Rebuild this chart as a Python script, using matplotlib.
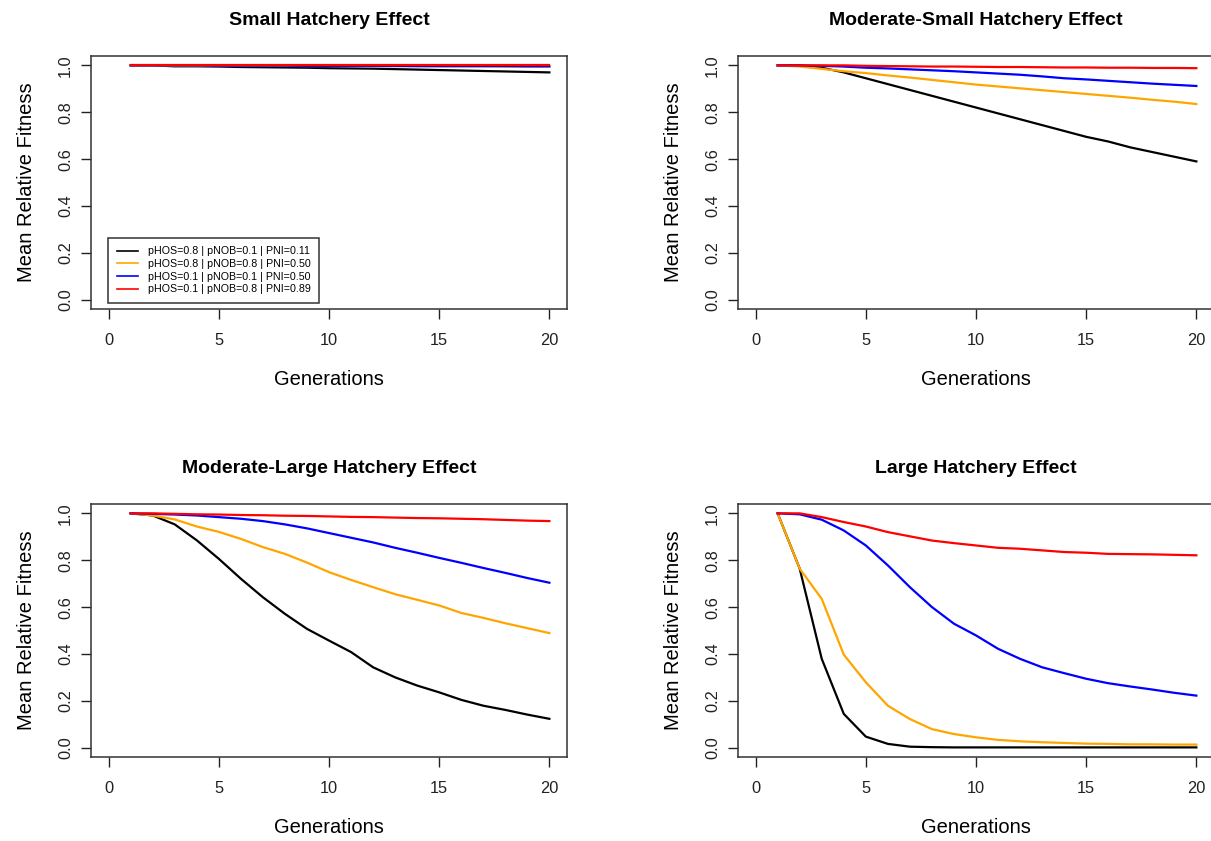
import matplotlib
matplotlib.use("Agg")
import matplotlib.pyplot as plt
import numpy as np

plt.rcParams['font.family'] = ['Liberation Sans', 'DejaVu Sans']

generations = list(range(1, 21))

# series order: black, orange, blue, red
labels = ["pHOS=0.8 | pNOB=0.1 | PNI=0.11",
          "pHOS=0.8 | pNOB=0.8 | PNI=0.50",
          "pHOS=0.1 | pNOB=0.1 | PNI=0.50",
          "pHOS=0.1 | pNOB=0.8 | PNI=0.89"]
colors = ["black", "orange", "blue", "red"]

titles = ["Small Hatchery Effect", "Moderate-Small Hatchery Effect",
          "Moderate-Large Hatchery Effect", "Large Hatchery Effect"]

# Small hatchery effect
small_black = [1.0, 1.0, 0.996, 0.996, 0.995, 0.993, 0.992, 0.991, 0.990, 0.988,
               0.987, 0.986, 0.984, 0.982, 0.980, 0.978, 0.976, 0.974, 0.972, 0.970]
small_orange = [1.0, 1.0, 0.999, 0.999, 0.999, 0.998, 0.998, 0.998, 0.997, 0.997,
                0.997, 0.996, 0.996, 0.996, 0.995, 0.995, 0.995, 0.994, 0.994, 0.994]
small_blue = [1.0, 1.0, 1.0, 1.0, 0.999, 0.999, 0.999, 0.999, 0.998, 0.998,
              0.998, 0.998, 0.998, 0.997, 0.997, 0.997, 0.997, 0.997, 0.996, 0.996]
small_red = [1.0, 1.0, 1.0, 1.0, 1.0, 1.0, 1.0, 1.0, 1.0, 1.0,
             1.0, 1.0, 1.0, 1.0, 1.0, 1.0, 1.0, 1.0, 1.0, 1.0]

# Moderate-small hatchery effect
modsmall_black = [1.0, 1.0, 0.99, 0.97, 0.945, 0.92, 0.895, 0.87, 0.845, 0.82,
                  0.795, 0.77, 0.745, 0.72, 0.695, 0.675, 0.65, 0.63, 0.61, 0.59]
modsmall_orange = [1.0, 0.995, 0.985, 0.975, 0.967, 0.957, 0.948, 0.938, 0.928, 0.918,
                   0.91, 0.902, 0.894, 0.886, 0.878, 0.87, 0.862, 0.853, 0.845, 0.835]
modsmall_blue = [1.0, 1.0, 0.998, 0.995, 0.99, 0.987, 0.983, 0.979, 0.975, 0.97,
                 0.965, 0.96, 0.953, 0.945, 0.94, 0.934, 0.928, 0.922, 0.917, 0.912]
modsmall_red = [1.0, 1.0, 1.0, 1.0, 0.998, 0.997, 0.996, 0.995, 0.995, 0.994,
                0.993, 0.993, 0.992, 0.991, 0.991, 0.99, 0.99, 0.989, 0.989, 0.988]

# Moderate-large hatchery effect
modlarge_black = [1.0, 0.991, 0.953, 0.885, 0.806, 0.721, 0.642, 0.571, 0.507, 0.457,
                  0.408, 0.343, 0.300, 0.265, 0.236, 0.204, 0.179, 0.161, 0.141, 0.123]
modlarge_orange = [1.0, 0.991, 0.974, 0.944, 0.921, 0.891, 0.856, 0.827, 0.790, 0.749,
                   0.716, 0.685, 0.655, 0.631, 0.607, 0.575, 0.554, 0.531, 0.510, 0.489]
modlarge_blue = [1.0, 0.998, 0.995, 0.991, 0.984, 0.977, 0.967, 0.953, 0.936, 0.916,
                 0.896, 0.876, 0.853, 0.832, 0.810, 0.789, 0.767, 0.746, 0.724, 0.704]
modlarge_red = [1.0, 1.0, 0.998, 0.996, 0.995, 0.993, 0.992, 0.990, 0.989, 0.987,
                0.985, 0.984, 0.982, 0.980, 0.979, 0.977, 0.975, 0.972, 0.969, 0.967]

# Large hatchery effect
large_black = [1.0, 0.764, 0.379, 0.144, 0.047, 0.016, 0.004, 0.002, 0.001, 0.001,
               0.001, 0.001, 0.001, 0.001, 0.001, 0.001, 0.001, 0.001, 0.001, 0.001]
large_orange = [1.0, 0.764, 0.635, 0.397, 0.279, 0.179, 0.122, 0.079, 0.058, 0.044,
                0.033, 0.027, 0.023, 0.020, 0.017, 0.016, 0.014, 0.014, 0.013, 0.013]
large_blue = [1.0, 0.996, 0.973, 0.927, 0.863, 0.778, 0.685, 0.600, 0.529, 0.479,
              0.422, 0.379, 0.343, 0.318, 0.294, 0.275, 0.261, 0.248, 0.234, 0.222]
large_red = [1.0, 1.0, 0.984, 0.963, 0.944, 0.920, 0.902, 0.884, 0.873, 0.863,
             0.853, 0.849, 0.842, 0.835, 0.832, 0.827, 0.826, 0.825, 0.823, 0.821]

panels = [
	[small_black, small_orange, small_blue, small_red],
	[modsmall_black, modsmall_orange, modsmall_blue, modsmall_red],
	[modlarge_black, modlarge_orange, modlarge_blue, modlarge_red],
	[large_black, large_orange, large_blue, large_red],
]

W, H = 1211, 841
fig = plt.figure(figsize=(W / 100, H / 100), dpi=100)

# axes boxes in pixels: left, top
boxes = [(91, 56), (738, 56), (91, 504), (738, 504)]
box_w, box_h = 476, 253


def draw_panel(ax, series, title, with_legend=False):
	for vals, col, lab in zip(series, colors, labels):
		ax.plot(generations, vals, color=col, lw=1.6, label=lab)

	ax.set_xlim(-0.8, 20.8)
	ax.set_ylim(-0.04, 1.04)
	ax.set_xticks([0, 5, 10, 15, 20])
	ax.set_yticks([0.0, 0.2, 0.4, 0.6, 0.8, 1.0])
	ax.set_yticklabels(["0.0", "0.2", "0.4", "0.6", "0.8", "1.0"], rotation=90, va="center")
	ax.tick_params(axis="both", direction="out", length=7, width=1.0, labelsize=11.8, colors="#222222")
	ax.tick_params(axis="x", pad=10)
	ax.tick_params(axis="y", pad=6)
	for sp in ax.spines.values():
		sp.set_color("#333333")
		sp.set_linewidth(1.1)

	ax.set_xlabel("Generations", fontsize=14.5, labelpad=16)
	ax.set_ylabel("Mean Relative Fitness", fontsize=14.5, labelpad=16)
	ax.set_title(title, fontsize=14, fontweight="bold", pad=22)

	if with_legend:
		leg = ax.legend(loc="lower left", bbox_to_anchor=(0.036, 0.024), borderaxespad=0,
		                fontsize=7.7, handlelength=2.0, handletextpad=0.9, labelspacing=0.25,
		                borderpad=0.8, fancybox=False, framealpha=1, edgecolor="#333333")
		leg.get_frame().set_linewidth(1.1)
		for line in leg.get_lines():
			line.set_linewidth(1.2)


for i, (left, top) in enumerate(boxes):
	ax = fig.add_axes([left / W, (H - top - box_h) / H, box_w / W, box_h / H])
	draw_panel(ax, panels[i], titles[i], with_legend=(i == 0))

fig.savefig("out.png", dpi=100)
